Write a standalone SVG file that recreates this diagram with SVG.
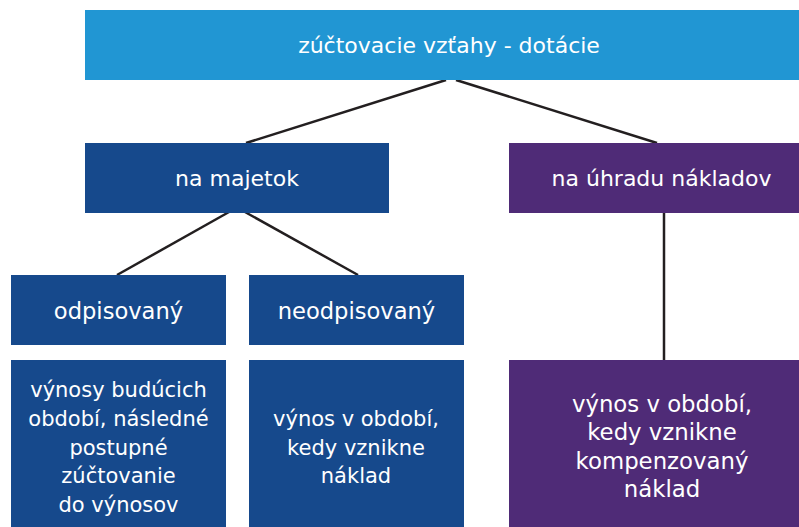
<svg xmlns="http://www.w3.org/2000/svg" width="799" height="527" viewBox="0 0 799 527">
<style>
text{font-family:"DejaVu Sans",sans-serif;fill:#fff;text-anchor:middle;font-size:22px}
.b{fill:#16498C}.p{fill:#4F2B77}.t{fill:#2196D3}
.s{font-size:21px}.r{font-size:22.8px}
#connectors line{stroke:#231F20;stroke-width:2.5}
</style>
<rect width="799" height="527" fill="#fff"/>
<g id="connectors">
<line x1="446" y1="80" x2="246" y2="143"/>
<line x1="456" y1="80" x2="657" y2="143"/>
<line x1="229" y1="212" x2="117" y2="275"/>
<line x1="245" y1="212" x2="358" y2="275"/>
<line x1="664" y1="212" x2="664" y2="360"/>
</g>
<g id="root"><rect class="t" x="85" y="10" width="714" height="70"/><text x="449" y="53">zúčtovacie vzťahy - dotácie</text></g>
<g id="majetok"><rect class="b" x="85" y="143" width="304" height="70"/><text x="237" y="186">na majetok</text></g>
<g id="uhrada"><rect class="p" x="509" y="143" width="290" height="70"/><text x="661.5" y="186">na úhradu nákladov</text></g>
<g id="odpisovany"><rect class="b" x="11" y="275" width="215" height="70"/><text x="118.5" y="319" style="font-size:22.6px">odpisovaný</text></g>
<g id="neodpisovany"><rect class="b" x="249" y="275" width="215" height="70"/><text x="356.5" y="319" style="font-size:22.6px">neodpisovaný</text></g>
<g id="vynosy"><rect class="b" x="11" y="360" width="215" height="167"/>
<text class="s" x="118.5" y="397">výnosy budúcich</text>
<text class="s" x="118.5" y="426">období, následné</text>
<text class="s" x="118.5" y="455">postupné</text>
<text class="s" x="118.5" y="483">zúčtovanie</text>
<text class="s" x="118.5" y="512">do výnosov</text></g>
<g id="vynos"><rect class="b" x="249" y="360" width="215" height="167"/>
<text class="s" x="356" y="426">výnos v období,</text>
<text class="s" x="356" y="455">kedy vznikne</text>
<text class="s" x="356" y="483">náklad</text></g>
<g id="vynos-komp"><rect class="p" x="509" y="360" width="290" height="167"/>
<text class="r" x="662" y="412">výnos v období,</text>
<text class="r" x="662" y="440">kedy vznikne</text>
<text class="r" x="662" y="469">kompenzovaný</text>
<text class="r" x="662" y="497">náklad</text></g>
</svg>
